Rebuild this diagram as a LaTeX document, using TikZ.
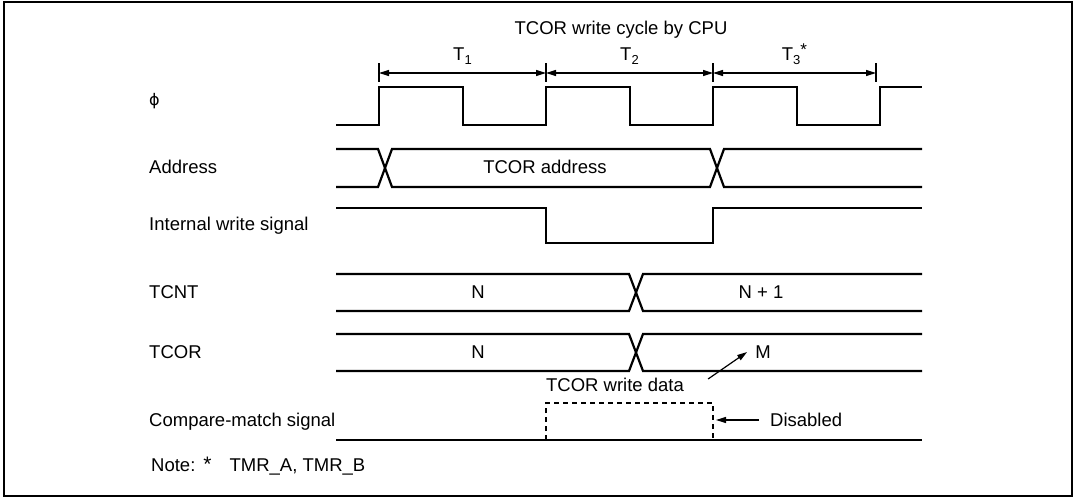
\documentclass[tikz,border=0pt]{standalone}
\usepackage{fontspec}
\setmainfont{Liberation Sans}
\newfontfamily\dejavu{DejaVu Sans}
\usetikzlibrary{arrows.meta}

\begin{document}
\begin{tikzpicture}[x=1pt, y=-1pt, every node/.style={font=\fontsize{18.5}{22}\selectfont, inner sep=0pt}, >={Triangle[length=10pt, width=6pt]}, sig/.style={line width=2.2pt, line join=miter}, dim/.style={line width=1.2pt}, lbl/.style={anchor=west}]
	\useasboundingbox (0,0) rectangle (1076,498);
	\draw[line width=1.6pt] (4,2) rectangle (1072,496);
	% signal names
	\node[lbl] (lphi) at (149,101) {\dejavu\fontsize{16}{18}\selectfont ϕ};
	\node[lbl] (laddr) at (149,167) {Address};
	\node[lbl] (lwr) at (149,226) {Internal write signal};
	\node[lbl] (ltcnt) at (149,292) {TCNT};
	\node[lbl] (ltcor) at (149,352) {TCOR};
	\node[lbl] (lcmp) at (149,422) {Compare-match signal};
	\node[lbl] (note) at (151,466) {Note:\hspace{8pt}{\fontsize{21}{22}\selectfont *}\hspace{18pt}TMR\_A, TMR\_B};
	% cycle states
	\node (cyc) at (621,30) {TCOR write cycle by CPU};
	\foreach \i/\x in {0/379, 1/546, 2/713, 3/876} {\coordinate (t\i) at (\x,73); \draw[dim] (\x,63) -- (\x,82);}
	\draw[dim, <->] (t0) -- (t1) node[midway, above=8pt] {T\raisebox{-4pt}{\fontsize{13}{13}\selectfont 1}};
	\draw[dim, <->] (t1) -- (t2) node[midway, above=8pt] {T\raisebox{-4pt}{\fontsize{13}{13}\selectfont 2}};
	\draw[dim, <->] (t2) -- (t3) node[midway, above=8pt] {T\raisebox{-4pt}{\fontsize{13}{13}\selectfont 3}\raisebox{5pt}{\fontsize{17}{17}\selectfont *}};
	% clock
	\draw[sig] (336,125) \foreach \x in {379,546,713} {-- (\x,125) -- (\x,87) -- (\x+84,87) -- (\x+84,125)} -- (880,125) -- (880,87) -- (922,87);
	% address bus
	\draw[sig] (336,149) -- (378,149) -- (392,187) -- (710,187) -- (724,149) -- (922,149);
	\draw[sig] (336,187) -- (378,187) -- (392,149) -- (710,149) -- (724,187) -- (922,187);
	\node (addr) at (545,167) {TCOR address};
	% internal write
	\draw[sig] (336,208) -- (546,208) -- (546,243) -- (713,243) -- (713,208) -- (922,208);
	% TCNT and TCOR
	\foreach \y in {274,334} {\draw[sig] (336,\y) -- (629,\y) -- (643,\y+37) -- (922,\y+37); \draw[sig] (336,\y+37) -- (629,\y+37) -- (643,\y) -- (922,\y);}
	\node (cntn) at (478,292) {N};
	\node (cntn1) at (761,292) {N + 1};
	\node (corn) at (478,352) {N};
	\node (corm) at (763,352) {M};
	\node (wdata) at (615,385) {TCOR write data};
	\draw[dim, ->] ([xshift=24pt, yshift=6pt]wdata.east) -- ([xshift=-8pt]corm.west);
	% compare match
	\draw[sig] (336,440) -- (922,440);
	\draw[sig, dash pattern=on 5pt off 4pt] (546,440) -- (546,403) -- (713,403) -- (713,440);
	\node[lbl] (dis) at (770,420) {Disabled};
	\coordinate (dm) at (716,420);
	\draw[dim, ->] ([xshift=-11pt]dis.west) -- (dm);
\end{tikzpicture}
\end{document}
